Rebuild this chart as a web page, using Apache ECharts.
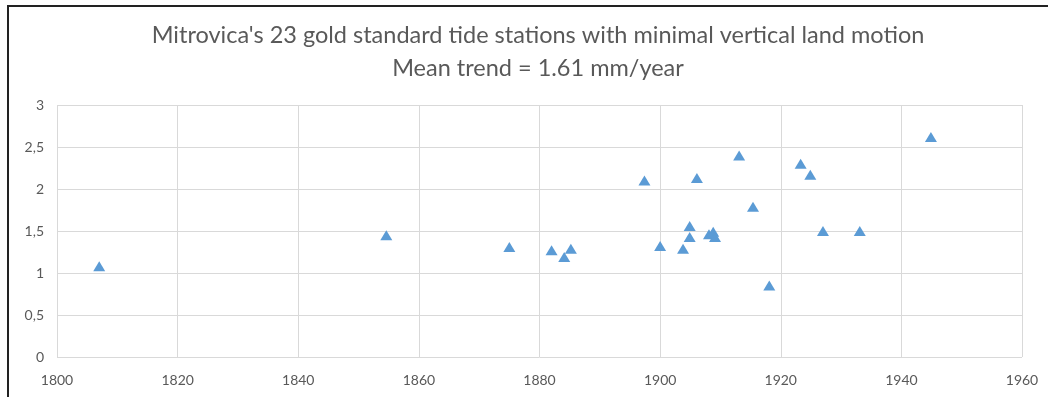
<!DOCTYPE html>
<html>
<head>
<meta charset="utf-8">
<script src="https://cdn.jsdelivr.net/npm/echarts@6/dist/echarts.min.js"></script>
<style>
  html, body { margin: 0; padding: 0; background: #fff; }
  #frame { position: absolute; left: 7px; top: 5px; width: 1041px; height: 392px; border-top: 2px solid #222; border-left: 2px solid #222; box-sizing: border-box; }
  #chart { position: absolute; left: 0; top: 0; width: 1048px; height: 397px; }
</style>
</head>
<body>
<div id="frame"></div>
<div id="chart"></div>
<script>
const titleLines = ["Mitrovica's 23 gold standard tide stations with minimal vertical land motion", "Mean trend = 1.61 mm/year"];
const startYears = [1807, 1854.6, 1875, 1882, 1884.1, 1885.2, 1897.4, 1900, 1903.8, 1904.9, 1904.9, 1906.1, 1908.1, 1908.8, 1909.1, 1913.1, 1915.4, 1918.1, 1923.3, 1924.9, 1927, 1933.1, 1944.9];
const trends = [1.08, 1.45, 1.31, 1.27, 1.19, 1.29, 2.10, 1.32, 1.29, 1.56, 1.43, 2.13, 1.46, 1.49, 1.43, 2.40, 1.79, 0.85, 2.30, 2.17, 1.50, 1.50, 2.62];
const xTicks = [1800, 1960, 20];
const yTicks = [0, 3, 0.5];

const chart = echarts.init(document.getElementById('chart'), null, { renderer: 'canvas' });
const points = startYears.map((x, i) => [x, trends[i]]);
const labelColor = '#595959';
const font = 'Lato, "Liberation Sans", sans-serif';

chart.setOption({
  animation: false,
  backgroundColor: 'transparent',
  title: {
    text: titleLines.join('\n'),
    left: 533,
    top: 14,
    textAlign: 'center',
    textStyle: { fontFamily: font, fontSize: 23.5, fontWeight: 'normal', color: labelColor, lineHeight: 33 }
  },
  grid: { left: 57, right: 26, top: 105, bottom: 40, containLabel: false, show: false },
  xAxis: {
    type: 'value', min: xTicks[0], max: xTicks[1], interval: xTicks[2],
    axisLine: { show: false }, axisTick: { show: false },
    splitLine: { show: true, lineStyle: { color: '#d9d9d9', width: 1 } },
    axisLabel: { color: labelColor, fontFamily: font, fontSize: 14, margin: 16,
      formatter: v => String(v) }
  },
  yAxis: {
    type: 'value', min: yTicks[0], max: yTicks[1], interval: yTicks[2],
    axisLine: { show: false }, axisTick: { show: false },
    splitLine: { show: true, lineStyle: { color: '#d9d9d9', width: 1 } },
    axisLabel: { color: labelColor, fontFamily: font, fontSize: 14, margin: 13,
      formatter: v => String(v).replace('.', ',') }
  },
  series: [{
    type: 'scatter',
    data: points,
    symbol: 'triangle',
    symbolSize: [12, 10],
    itemStyle: { color: '#5B9BD5', opacity: 1 }
  }]
});
</script>
</body>
</html>
